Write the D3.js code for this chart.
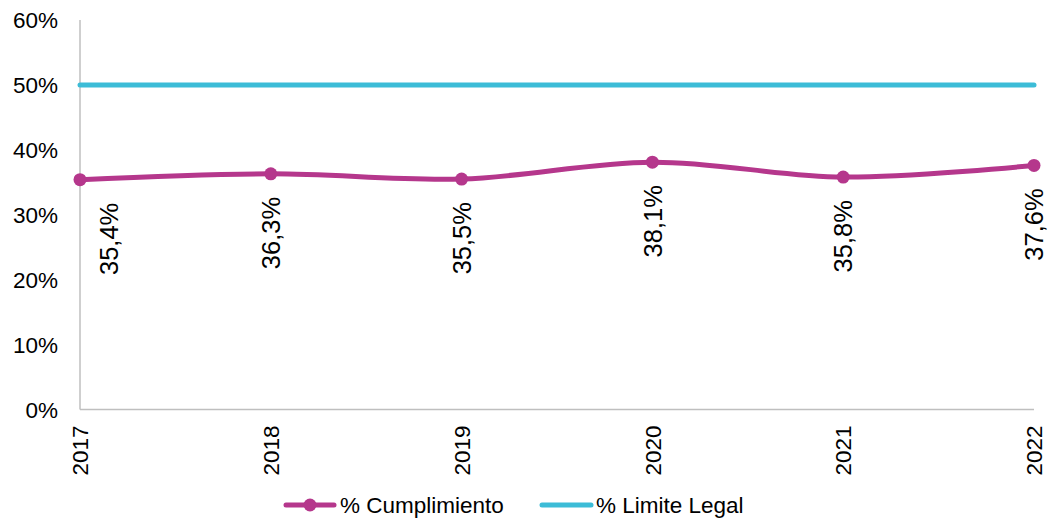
<!DOCTYPE html>
<html><head><meta charset="utf-8">
<script src="https://cdn.jsdelivr.net/npm/d3@7"></script>
<style>body{margin:0;background:#fff}svg{display:block}text{font-family:"Liberation Sans",Arial,sans-serif;fill:#000}</style>
</head><body>
<svg id="c" width="1049" height="519"></svg>
<script>
const years = ["2017","2018","2019","2020","2021","2022"];
const cumplimiento = [35.4, 36.3, 35.5, 38.1, 35.8, 37.6];
const limite = [50, 50, 50, 50, 50, 50];
const yTicks = [0, 10, 20, 30, 40, 50, 60];
const seriesNames = ["% Cumplimiento", "% Limite Legal"];

const svg = d3.select("#c");
const M = {left: 80, right: 1034, top: 20, bottom: 409.5};
const x = d3.scalePoint().domain(years).range([M.left, M.right]);
const y = d3.scaleLinear().domain([0, 60]).range([M.bottom, M.top]);
const magenta = "#B5378C", cyan = "#3CBCD7";

// y tick labels
svg.append("g").selectAll("text").data(yTicks).join("text")
  .attr("x", 58).attr("y", d => y(d)).attr("dy", "0.36em")
  .attr("text-anchor", "end").style("font-size", "22.5px")
  .text(d => d + "%");

// axes lines
svg.append("line").attr("x1", M.left).attr("x2", M.left).attr("y1", M.top).attr("y2", M.bottom)
  .attr("stroke", "#BFBFBF").attr("stroke-width", 1.5);
svg.append("line").attr("x1", M.left).attr("x2", M.right).attr("y1", M.bottom).attr("y2", M.bottom)
  .attr("stroke", "#BFBFBF").attr("stroke-width", 1.5);

// x tick labels
svg.append("g").selectAll("text").data(years).join("text")
  .attr("transform", d => `translate(${x(d)},${M.bottom + 16}) rotate(-90)`)
  .attr("text-anchor", "end").attr("dy", "0.36em").style("font-size", "22.5px")
  .text(d => d);

// limit line
svg.append("path")
  .attr("d", d3.line().x((d, i) => x(years[i])).y(d => y(d))(limite))
  .attr("fill", "none").attr("stroke", cyan).attr("stroke-width", 5).attr("stroke-linecap", "round");

// cumplimiento line
svg.append("path")
  .attr("d", d3.line().x((d, i) => x(years[i])).y(d => y(d)).curve(d3.curveCatmullRom.alpha(0.5))(cumplimiento))
  .attr("fill", "none").attr("stroke", magenta).attr("stroke-width", 5).attr("stroke-linecap", "round");
svg.append("g").selectAll("circle").data(cumplimiento).join("circle")
  .attr("cx", (d, i) => x(years[i])).attr("cy", d => y(d)).attr("r", 6.5).attr("fill", magenta);

// data labels
svg.append("g").selectAll("text").data(cumplimiento).join("text")
  .attr("transform", (d, i) => `translate(${x(years[i]) + (i === 0 ? 29 : 0)},${y(d) + 23}) rotate(-90)`)
  .attr("text-anchor", "end").attr("dy", "0.36em").style("font-size", "25.5px")
  .text(d => d.toFixed(1).replace(".", ",") + "%");

// legend
const lg = svg.append("g");
lg.append("line").attr("x1", 286).attr("x2", 334).attr("y1", 505).attr("y2", 505)
  .attr("stroke", magenta).attr("stroke-width", 5).attr("stroke-linecap", "round");
lg.append("circle").attr("cx", 310).attr("cy", 505).attr("r", 6.5).attr("fill", magenta);
lg.append("text").attr("x", 340).attr("y", 505).attr("dy", "0.36em").style("font-size", "22.5px").text(seriesNames[0]);
lg.append("line").attr("x1", 542).attr("x2", 591).attr("y1", 505).attr("y2", 505)
  .attr("stroke", cyan).attr("stroke-width", 5).attr("stroke-linecap", "round");
lg.append("text").attr("x", 596).attr("y", 505).attr("dy", "0.36em").style("font-size", "22.5px").text(seriesNames[1]);
</script>
</body></html>
